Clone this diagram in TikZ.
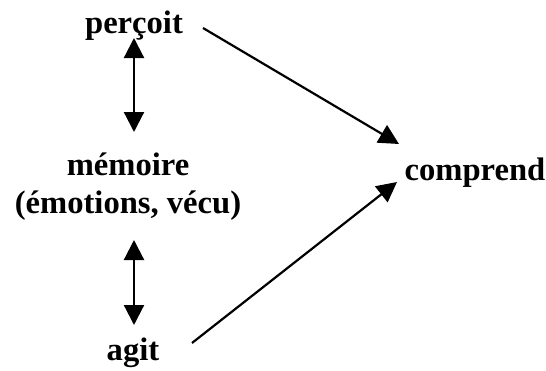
\documentclass[tikz,border=0pt]{standalone}
\usepackage{fontspec}
\setmainfont{Liberation Serif}
\usetikzlibrary{arrows.meta,calc}
\begin{document}
\begin{tikzpicture}[x=1pt,y=-1pt,
  lbl/.style={inner sep=0pt,outer sep=0pt,font=\fontsize{32.6pt}{38pt}\selectfont\bfseries},
  conn/.style={line width=2.2pt},
  tip/.style={-{Triangle[length=20pt,width=20pt]}},
  dbl/.style={{Triangle[length=20pt,width=20pt]}-{Triangle[length=20pt,width=20pt]}}]
\useasboundingbox (0,0) rectangle (546,370);
\node[lbl,anchor=base] (p) at (134,33) {perçoit};
\node[lbl,align=center] (m) at (128,187) {mémoire\\(émotions, vécu)};
\node[lbl,anchor=base] (a) at (133,360) {agit};
\node[lbl,anchor=base] (c) at (475,180) {comprend};
\draw[conn,dbl] ($(p.base)+(0,5)$) -- ($(p.base)+(0,99)$);
\draw[conn,dbl] ($(a.base)+(1,-120)$) -- ($(a.base)+(1,-35)$);
\draw[conn,tip] ($(p.base)+(69,-5)$) -- ($(c.base)+(-76,-36)$);
\draw[conn,tip] ($(a.base)+(59,-17)$) -- ($(c.base)+(-78,2)$);
\end{tikzpicture}
\end{document}
